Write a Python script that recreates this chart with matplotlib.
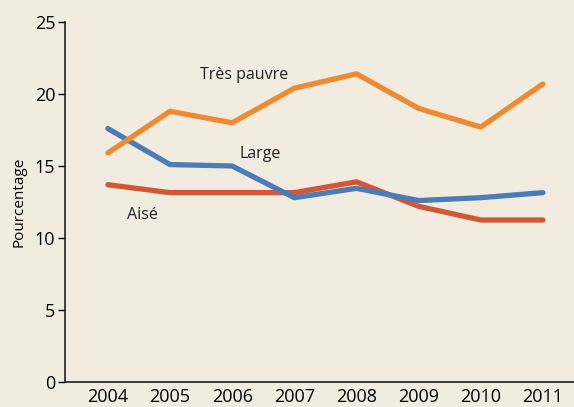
import numpy as np
import matplotlib.pyplot as plt

plt.rcParams['font.family'] = ['Open Sans', 'DejaVu Sans']

# data
years = [2004, 2005, 2006, 2007, 2008, 2009, 2010, 2011]
tres_pauvre = [15.9, 18.8, 18.0, 20.4, 21.4, 19.0, 17.7, 20.7]
large = [17.6, 15.1, 15.0, 12.8, 13.45, 12.6, 12.8, 13.15]
aise = [13.7, 13.15, 13.15, 13.15, 13.9, 12.2, 11.25, 11.25]

bg = '#F2ECE0'
fig = plt.figure(figsize=(5.74, 4.07), dpi=100, facecolor=bg)
ax = fig.add_axes([65 / 574, 25 / 407, 1 - 65 / 574, 360 / 407])
ax.set_facecolor(bg)

ax.plot(years, aise, color='#D55634', lw=3.8, solid_capstyle='round')
ax.plot(years, large, color='#4A7DB8', lw=3.8, solid_capstyle='round')
ax.plot(years, tres_pauvre, color='#EE8A2F', lw=3.8, solid_capstyle='round')

ax.text(2006.2, 21.3, 'Très pauvre', fontsize=11.5, color='#222222',
        ha='center', va='center')
ax.text(2006.45, 15.8, 'Large', fontsize=11.5, color='#222222',
        ha='center', va='center')
ax.text(2004.55, 11.6, 'Aisé', fontsize=11.5, color='#222222',
        ha='center', va='center')

ax.set_xlim(2003.31, 2011.5)
ax.set_ylim(0, 25)
ax.set_yticks(np.arange(0, 26, 5))
ax.set_xticks(years)
ax.tick_params(axis='x', length=0, labelsize=13, pad=4)
ax.tick_params(axis='y', length=5, width=1, labelsize=13, pad=2)
ax.set_ylabel('Pourcentage', fontsize=11, labelpad=6)
for s in ['top', 'right']:
    ax.spines[s].set_visible(False)
for s in ['left', 'bottom']:
    ax.spines[s].set_color('#222222')
    ax.spines[s].set_linewidth(1.2)

plt.savefig('out.png', dpi=100, facecolor=bg)
